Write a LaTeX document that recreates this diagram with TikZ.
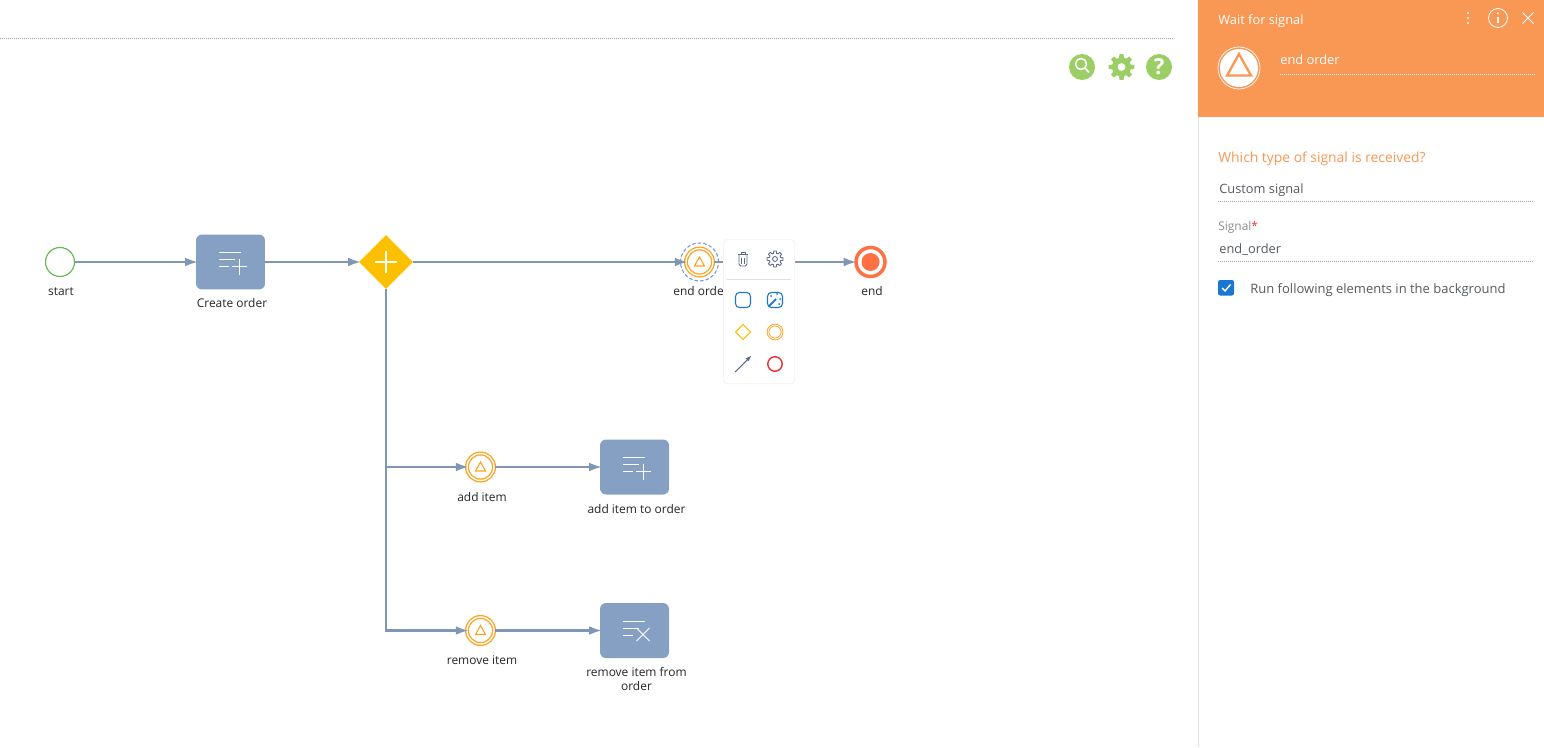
\documentclass[tikz,border=0pt]{standalone}
\usepackage{fontspec}
\setmainfont{Open Sans}
\usetikzlibrary{arrows.meta,shapes.geometric}
\definecolor{flowblue}{HTML}{7F96B7}
\definecolor{taskblue}{HTML}{86A0C4}
\definecolor{gateyellow}{HTML}{FBC000}
\definecolor{signalorange}{HTML}{FFA31F}
\definecolor{endred}{HTML}{FF7043}
\definecolor{startgreen}{HTML}{63B84F}
\definecolor{toolgreen}{HTML}{9CCE66}
\definecolor{panelorange}{HTML}{F99754}
\definecolor{menublue}{HTML}{1976D2}
\definecolor{menuslate}{HTML}{5F6B85}
\definecolor{menured}{HTML}{EE3034}
\definecolor{selectblue}{HTML}{6F96DC}
\definecolor{textgray}{HTML}{555B60}
\tikzset{
  flow/.style={draw=flowblue, line width=1.4pt, shorten >=-1.5pt, -{Latex[length=7.5pt,width=5pt]}},
  task/.style={rectangle, rounded corners=3.4pt, fill=taskblue, minimum width=1.38cm, minimum height=1.1cm, inner sep=0},
  gate/.style={diamond, fill=gateyellow, minimum size=1.08cm, inner sep=0},
  signal/.style={circle, draw=signalorange, double=white, line width=0.75pt, double distance=0.8pt, fill=white, minimum size=0.54cm, inner sep=0},
  lbl/.style={font=\fontsize{6.8}{7.9}\selectfont, text=black!85, anchor=base, align=center, inner sep=0},
  paneltext/.style={font=\fontsize{7.3}{9}\selectfont, text=textgray, anchor=base west, inner sep=0},
  headtext/.style={font=\fontsize{7.3}{9}\selectfont, text=white, anchor=base west, inner sep=0},
  rule/.style={draw=black!35, line width=0.4pt, dash pattern=on 0.569pt off 0.569pt},
  icon/.style={draw=white, line width=0.5pt},
  sigtri/.pic={\draw[pic actions] (0,-5) -- (5,4) -- (-5,4) -- cycle;},
  addicon/.pic={
    \draw[icon] (-11.5,-9.5) -- (10.5,-9.5) (-11.5,-2.5) -- (4.5,-2.5) (-11.5,4.5) -- (-1.5,4.5);
    \draw[icon] (1,4.5) -- (16,4.5) (8.5,-3.5) -- (8.5,12.5);
  },
  delicon/.pic={
    \draw[icon] (-11.5,-9.5) -- (10.5,-9.5) (-11.5,-2.5) -- (4.5,-2.5) (-11.5,4.5) -- (-1.5,4.5);
    \draw[icon] (2,-2.5) -- (15,10.5) (15,-2.5) -- (2,10.5);
  },
  cogwheel/.pic={
    \path[pic actions, even odd rule] (0:13) \foreach \a in {0,45,...,315} {
      -- (\a-9:13) -- (\a+9:13) -- (\a+15:9.5) -- (\a+30:9.5) -- (\a+36:13)
    } -- cycle (0,0) circle (4);
  }
}
\begin{document}
\begin{tikzpicture}[x=0.02cm,y=-0.02cm]
\useasboundingbox (0,0) rectangle (1544,747);
\fill[white] (0,0) rectangle (1544,747);

\draw[rule] (0,38) -- (1172,38);

\node[circle, draw=startgreen, line width=0.65pt, fill=white, minimum size=0.58cm, inner sep=0] (start) at (60,262) {};
\node[task] (create) at (230.5,262) {};
\node[gate] (plus) at (386,262) {};
\node[signal] (endorder) at (699.5,262) {};
\node[signal] (additem) at (480.5,467) {};
\node[signal] (removeitem) at (480.5,630.5) {};
\node[task] (addtask) at (634.5,467) {};
\node[task] (removetask) at (634.5,630.5) {};
\node[circle, draw=endred, line width=2pt, fill=white, minimum size=0.58cm, inner sep=0] (finish) at (870.5,262) {};
\fill[endred] (finish.center) circle (9);
\node[circle, draw=selectblue, dash pattern=on 2pt off 1.2pt, line width=0.6pt, minimum size=0.76cm, inner sep=0] (selected) at (699.5,262) {};

\draw[flow] (start) -- (create);
\draw[flow] (create) -- (plus);
\draw[flow] (plus) -- (endorder);
\draw[flow] (plus.south) |- (additem);
\draw[flow] (plus.south) |- (removeitem);
\draw[flow] (additem) -- (addtask);
\draw[flow] (removeitem) -- (removetask);
\draw[flow] (endorder) -- (finish);

\draw[white, line width=1.2pt] (375,262) -- (397,262) (386,251) -- (386,273);
\pic at (create) {addicon};
\pic at (addtask) {addicon};
\pic at (removetask) {delicon};
\foreach \n in {endorder,additem,removeitem}
    \pic[draw=signalorange, line width=0.6pt] at (\n) {sigtri};

\node[lbl] (startlbl) at (61,295) {start};
\node[lbl] (createlbl) at (232,307) {Create order};
\node[lbl] (endorderlbl) at (701,295) {end order};
\node[lbl] (finishlbl) at (872,295) {end};
\node[lbl] (additemlbl) at (482,501) {add item};
\node[lbl] (addtasklbl) at (636.5,513) {add item to order};
\node[lbl] (removeitemlbl) at (482,664) {remove item};
\node[lbl] (removetasklbl) at (636.5,690) {remove item from\\order};

\fill[black!4, rounded corners=2pt] (723,239) rectangle (795,384);
\fill[white, rounded corners=2pt] (724,240) rectangle (794,383);
\draw[black!12, line width=0.5pt] (727,279) -- (791,279);

\draw[menuslate, line width=0.55pt] (738,254.5) -- (748,254.5) (741,254.5) -- (741,252.5) -- (745,252.5) -- (745,254.5);
\draw[menuslate, line width=0.55pt, rounded corners=1pt] (739,254.5) -- (739,266) -- (747,266) -- (747,254.5);
\draw[menuslate, line width=0.45pt] (741.5,257.5) -- (741.5,263.5) (744.5,257.5) -- (744.5,263.5);
\pic[draw=menuslate, line width=0.5pt, scale=0.62] at (775,259) {cogwheel};

\draw[menublue, line width=0.6pt, rounded corners=2.2pt] (735.5,292.5) rectangle (750.5,307.5);
\draw[menublue, line width=0.6pt, rounded corners=2.2pt] (767.5,292.5) rectangle (782.5,307.5);
\draw[menublue, line width=1pt] (769,306) -- (776,299);
\foreach \x/\y in {771/296,777/294,780/299,779/304}
    \fill[menublue] (\x,\y) circle (1);
\draw[gateyellow, line width=0.6pt] (743,324.5) -- (750.5,332) -- (743,339.5) -- (735.5,332) -- cycle;
\node[circle, draw=signalorange, double=white, line width=0.5pt, double distance=0.45pt, minimum size=0.28cm, inner sep=0] (menusignal) at (775,332) {};
\draw[menuslate, line width=0.6pt, -{Latex[length=3.5pt,width=2.6pt]}] (735,372) -- (751.5,355.5);
\node[circle, draw=menured, line width=0.8pt, minimum size=0.29cm, inner sep=0] (menuend) at (775,364) {};

\fill[toolgreen] (1082,67) circle (13);
\draw[white, line width=0.9pt] (1081,64) circle (5.5);
\draw[white, line width=1pt] (1085,68) -- (1089,72.5);
\pic[fill=toolgreen] at (1121.5,67) {cogwheel};
\fill[toolgreen] (1159,67) circle (13);
\node[font=\bfseries\fontsize{12.5}{12.5}\selectfont, text=white, inner sep=0] (helpmark) at (1159,67) {?};

\draw[black!12, line width=0.5pt] (1198,0) -- (1198,747);
\fill[panelorange] (1198,0) rectangle (1544,117);

\node[headtext] (paneltitle) at (1218,24.5) {Wait for signal};
\foreach \y in {13,18,23}
    \fill[white] (1468,\y) circle (1.1);
\draw[white, line width=0.5pt] (1498,18) circle (9.5);
\fill[white] (1498,13.2) circle (1.1);
\draw[white, line width=0.8pt] (1498,16.5) -- (1498,23);
\draw[white, line width=0.5pt] (1522.5,12.5) -- (1533.5,23.5) (1533.5,12.5) -- (1522.5,23.5);

\draw[white, line width=0.4pt] (1239,68) circle (21);
\fill[white] (1239,68) circle (19);
\pic[draw=panelorange, line width=1.3pt, scale=2.4] at (1239,66) {sigtri};
\node[headtext] (taskname) at (1280,64) {end order};
\draw[white, line width=0.5pt, dash pattern=on 0.569pt off 0.569pt] (1280,74) -- (1535,74);

\node[paneltext, text=panelorange, font=\fontsize{7.9}{9}\selectfont] (question) at (1218,162) {Which type of signal is received?};
\node[paneltext] (signaltype) at (1219,193) {Custom signal};
\draw[rule] (1218,201.5) -- (1533,201.5);
\node[paneltext, text=black!45, font=\fontsize{6.8}{9}\selectfont] (signallbl) at (1218,230) {Signal\textcolor{red!80}{*}};
\node[paneltext] (signalname) at (1219,253) {end\_order};
\draw[rule] (1218,261.5) -- (1533,261.5);
\fill[menublue, rounded corners=1.2pt] (1218,280) rectangle (1234,295.5);
\draw[white, line width=0.8pt] (1222,288) -- (1225,291) -- (1230.5,284.5);
\node[paneltext, font=\fontsize{7.4}{9}\selectfont] (background) at (1250,293) {Run following elements in the background};
\end{tikzpicture}
\end{document}
